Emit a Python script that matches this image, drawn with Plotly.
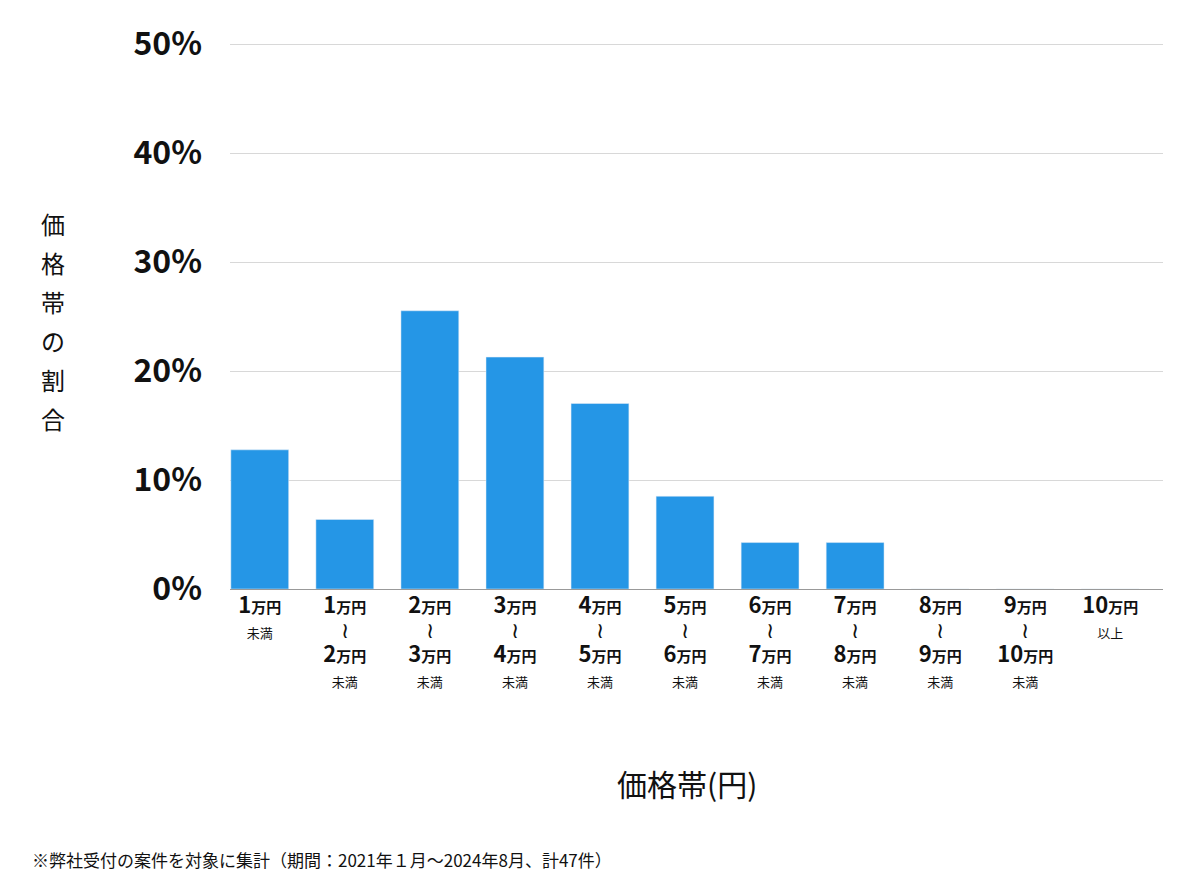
import plotly.graph_objects as go

lower = ["1", "1", "2", "3", "4", "5", "6", "7", "8", "9", "10"]
upper = [None, "2", "3", "4", "5", "6", "7", "8", "9", "10", None]
suffix = ["未満", "未満", "未満", "未満", "未満", "未満", "未満", "未満", "未満", "未満", "以上"]
values = [12.77, 6.38, 25.53, 21.28, 17.02, 8.51, 4.26, 4.26, 0, 0, 0]
yticks = [0, 10, 20, 30, 40, 50]
ytitle = ["価", "格", "帯", "の", "割", "合"]

def man(n):
    return f"<b><span style='font-size:22px'>{n}</span><span style='font-size:15px'>万円</span></b>"

cats = []
for lo, up, sf in zip(lower, upper, suffix):
    if up is None:
        cats.append(f"{man(lo)}<br><span style='font-size:13px'>{sf}</span>")
    else:
        cats.append(f"{man(lo)}<br><span style='font-size:22px'>≀</span><br>{man(up)}<br><span style='font-size:13px'>{sf}</span>")

fig = go.Figure(go.Bar(x=list(range(len(cats))), y=values, marker_color="#2596e6", width=0.68))
fig.update_layout(
    width=1200, height=874, plot_bgcolor="white", paper_bgcolor="white",
    margin=dict(l=222, r=45, t=35, b=293, autoexpand=False), showlegend=False,
    font=dict(family="Noto Sans CJK JP", color="#111"),
)
fig.update_xaxes(tickmode="array", tickvals=list(range(len(cats))), ticktext=cats,
                 range=[-0.35, 10.62], showline=True, linecolor="#999",
                 tickfont=dict(size=19, color="#111"), ticks="", automargin=False)
fig.update_yaxes(range=[0, 50.1], tickvals=yticks, ticktext=[f"<b>{v}%</b>" for v in yticks],
                 tickfont=dict(size=32, family="Noto Sans CJK JP", color="#111"),
                 gridcolor="#d8d8d8", zeroline=False, ticklabelstandoff=27, automargin=False)
for i, ch in enumerate(ytitle):
    fig.add_annotation(xref="paper", yref="paper", x=-0.19, y=(874 - 293 - (215 + i * 39)) / 546,
                       xanchor="center", yanchor="middle", text=ch, showarrow=False,
                       font=dict(size=24, color="#111"))
fig.add_annotation(xref="paper", yref="paper", x=0.49, y=-0.355, xanchor="center", yanchor="middle",
                   text="価格帯(円)", showarrow=False, font=dict(size=30, color="#111"))
fig.add_annotation(xref="paper", yref="paper", x=-0.214, y=-0.495, xanchor="left", yanchor="middle",
                   text="※弊社受付の案件を対象に集計（期間：2021年１月〜2024年8月、計47件）", showarrow=False,
                   font=dict(size=17, color="#111"))
fig.write_html("out.html")
